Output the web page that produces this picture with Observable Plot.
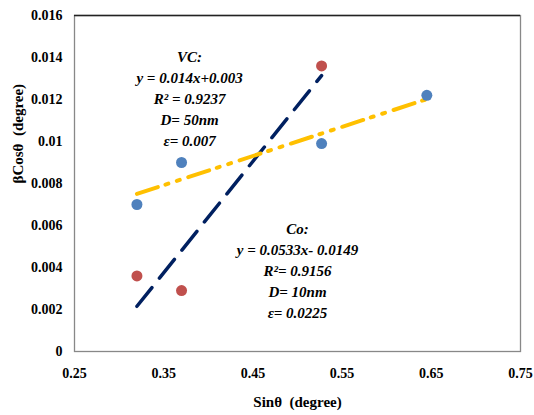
<!DOCTYPE html>
<html>
<head>
<meta charset="utf-8">
<script src="https://cdn.jsdelivr.net/npm/d3@7"></script>
<script src="https://cdn.jsdelivr.net/npm/@observablehq/plot@0.6"></script>
<style>
  html, body { margin: 0; padding: 0; background: #fff; }
  #chart svg { display: block; }
  #chart svg text { font-family: "Liberation Serif", "Times New Roman", serif; }
</style>
</head>
<body>
<div id="chart"></div>
<script>
// Data
const vcSin = [0.32, 0.37, 0.527, 0.645];
const vcBeta = [0.0070, 0.0090, 0.0099, 0.0122];
const coSin = [0.32, 0.37, 0.527];
const coBeta = [0.0036, 0.0029, 0.0136];

const xTicks = [0.25, 0.35, 0.45, 0.55, 0.65, 0.75];
const xTickLabels = ["0.25", "0.35", "0.45", "0.55", "0.65", "0.75"];
const yTicks = [0, 0.002, 0.004, 0.006, 0.008, 0.01, 0.012, 0.014, 0.016];
const yTickLabels = ["0", "0.002", "0.004", "0.006", "0.008", "0.01", "0.012", "0.014", "0.016"];

const annotations = [
  {x: 0.379, y: 0.0121, text: "VC:\ny = 0.014x+0.003\nR² = 0.9237\nD= 50nm\nε= 0.007"},
  {x: 0.500, y: 0.0039, text: "Co:\ny = 0.0533x- 0.0149\nR²= 0.9156\nD= 10nm\nε= 0.0225"}
];

const vc = vcSin.map((x, i) => ({x, y: vcBeta[i]}));
const co = coSin.map((x, i) => ({x, y: coBeta[i]}));

const font = "Liberation Serif";

const chart = Plot.plot({
  width: 534,
  height: 415,
  marginLeft: 74,
  marginRight: 14,
  marginTop: 15,
  marginBottom: 64,
  style: {fontFamily: font, background: "#fff"},
  x: {domain: [0.25, 0.75]},
  y: {domain: [0, 0.016]},
  marks: [
    Plot.frame({stroke: "#888", strokeWidth: 1.3}),
    Plot.ruleY([0.016], {stroke: "#222", strokeWidth: 1.3}),
    Plot.axisX({ticks: xTicks, tickFormat: (d, i) => xTickLabels[i], tickSize: 0, tickPadding: 17,
      fontSize: 14, fontWeight: "bold", fontFamily: font, label: null}),
    Plot.axisY({ticks: yTicks, tickFormat: (d, i) => yTickLabels[i], tickSize: 0, tickPadding: 12,
      fontSize: 14, fontWeight: "bold", fontFamily: font, label: null}),
    Plot.text(["Sinθ  (degree)"], {frameAnchor: "bottom", dy: 55, fontSize: 15, fontWeight: "bold", fontFamily: font, fill: "#000"}),
    Plot.text(["βCosθ  (degree)"], {frameAnchor: "left", dx: -56, rotate: -90, fontSize: 15, fontWeight: "bold", fontFamily: font, fill: "#000"}),
    Plot.linearRegressionY(co, {x: "x", y: "y", ci: 0, stroke: "#002060", strokeWidth: 3.5,
      strokeDasharray: "24,12"}),
    Plot.linearRegressionY(vc, {x: "x", y: "y", ci: 0, stroke: "#FFC000", strokeWidth: 4,
      strokeDasharray: "22,8,3,9,3,9"}),
    Plot.dot(vc, {x: "x", y: "y", r: 5.5, fill: "#4F81BD"}),
    Plot.dot(co, {x: "x", y: "y", r: 5.5, fill: "#C0504D"}),
    Plot.text(annotations, {x: "x", y: "y", text: "text", fontSize: 15, fontWeight: "bold",
      fontStyle: "italic", fontFamily: font, lineHeight: 1.4, fill: "#000"})
  ]
});
document.getElementById("chart").appendChild(chart);
</script>
</body>
</html>
